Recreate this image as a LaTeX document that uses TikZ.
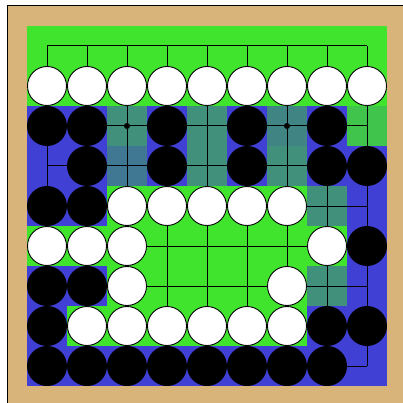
\documentclass[tikz,border=0pt]{standalone}
\definecolor{boardtan}{HTML}{D8B47A}
\definecolor{wgreen}{HTML}{40E42C}
\definecolor{bblue}{HTML}{4040D4}
\definecolor{tealg}{HTML}{40907C}
\definecolor{tealb}{HTML}{407894}
\definecolor{tealm}{HTML}{408484}
\definecolor{lgreen}{HTML}{40C44C}
\begin{document}
\begin{tikzpicture}[x=1pt,y=-1pt,
  cell/.style={fill=#1},
  gridline/.style={line width=1pt,black},
  wstone/.style={circle,inner sep=0pt,minimum size=39pt,fill=white,draw=black,line width=0.9pt},
  bstone/.style={circle,inner sep=0pt,minimum size=40pt,fill=black},
  hoshi/.style={fill=black}]
\useasboundingbox (0,0) rectangle (403,403);
\fill[white] (0,0) rectangle (403,403);
\fill[boardtan] (7,5.5) rectangle (403,403);
\draw[line width=1pt] (7,403) -- (7,5.5) -- (403,5.5);
% board territory
\fill[wgreen] (27,26) rectangle (387,386);
\foreach \c/\r in {0/2,1/2,3/2,5/2,7/2,
                   0/3,1/3,3/3,5/3,7/3,8/3,
                   0/4,1/4,8/4, 8/5, 0/6,1/6,8/6, 0/7,7/7,8/7,
                   0/8,1/8,2/8,3/8,4/8,5/8,6/8,7/8,8/8}
  \fill[cell=bblue] (27+40*\c,26+40*\r) rectangle ++(40,40);
\foreach \c/\r in {2/2,4/2,4/3,6/3,7/4,7/6}
  \fill[cell=tealg] (27+40*\c,26+40*\r) rectangle ++(40,40);
\fill[cell=tealb] (27+40*2,26+40*3) rectangle ++(40,40);
\fill[cell=tealm] (27+40*6,26+40*2) rectangle ++(40,40);
\fill[cell=lgreen] (27+40*8,26+40*2) rectangle ++(40,40);
% grid
\foreach \i in {0,...,8} {
  \draw[gridline] (47,46+40*\i) -- (367,46+40*\i);
  \draw[gridline] (47+40*\i,46) -- (47+40*\i,366);
}
\foreach \c/\r in {2/2,6/2,4/4,2/6,6/6}
  \fill[hoshi] (47+40*\c,46+40*\r) circle (3pt);
% stones
\foreach \c/\r in {0/1,1/1,2/1,3/1,4/1,5/1,6/1,7/1,8/1,
                   2/4,3/4,4/4,5/4,6/4,
                   0/5,1/5,2/5,7/5,
                   2/6,6/6,
                   1/7,2/7,3/7,4/7,5/7,6/7}
  \node[wstone] (w\c-\r) at (47+40*\c,46+40*\r) {};
\foreach \c/\r in {0/2,1/2,3/2,5/2,7/2,
                   1/3,3/3,5/3,7/3,8/3,
                   0/4,1/4, 8/5, 0/6,1/6, 0/7,7/7,8/7,
                   0/8,1/8,2/8,3/8,4/8,5/8,6/8,7/8}
  \node[bstone] (b\c-\r) at (47+40*\c,46+40*\r) {};
\end{tikzpicture}
\end{document}
